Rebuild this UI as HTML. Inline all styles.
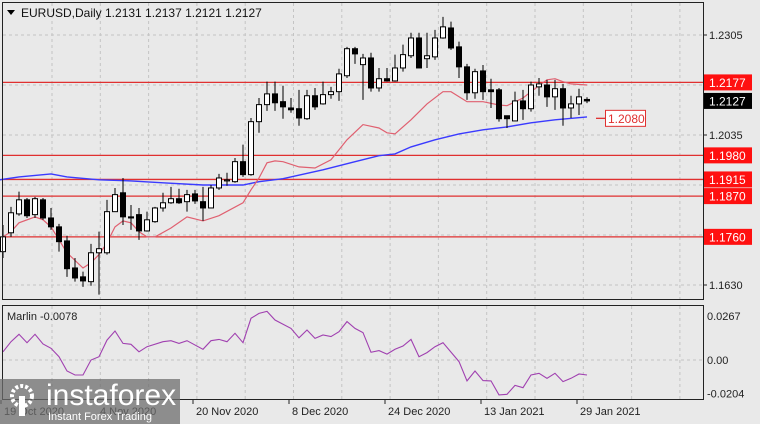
<!DOCTYPE html>
<html><head><meta charset="utf-8"><style>
body{margin:0;background:#e9e9e9;}
svg{display:block;font-family:"Liberation Sans",sans-serif;}
</style></head><body>
<svg id="c" width="760" height="424" viewBox="0 0 760 424" xmlns="http://www.w3.org/2000/svg">
<rect x="0" y="0" width="760" height="424" fill="#e9e9e9"/>
<g id="grid"></g>
<g id="levels"></g>
<g id="mas"></g>
<g id="candles"></g>
<g id="osc"></g>
<g id="axes"></g>
</svg>
<script>
const open_ = [1.1720,1.1771,1.1822,1.1860,1.1820,1.1860,1.1811,1.1787,1.1749,1.1676,1.1652,1.1639,1.1717,1.1717,1.1828,1.1879,1.1814,1.1820,1.1776,1.1801,1.1838,1.1852,1.1863,1.1855,1.1876,1.1855,1.1838,1.1892,1.1911,1.1909,1.1963,1.1928,1.2071,1.2117,1.2146,1.2125,1.2108,1.2106,1.2079,1.2141,1.2119,1.2144,1.2152,1.2195,1.2268,1.2225,1.2243,1.2162,1.2187,1.2181,1.2216,1.2249,1.2297,1.2241,1.2246,1.2297,1.2324,1.2273,1.2219,1.2149,1.2208,1.2157,1.2157,1.2087,1.2073,1.2127,1.2106,1.2165,1.2170,1.2138,1.2160,1.2108,1.2119,1.2131];
const high = [1.1792,1.1841,1.1882,1.1865,1.1868,1.1865,1.1838,1.1795,1.1763,1.1703,1.1666,1.1741,1.1774,1.1860,1.1892,1.1919,1.1846,1.1838,1.1828,1.1841,1.1879,1.1895,1.1890,1.1887,1.1887,1.1895,1.1900,1.1930,1.1933,1.1973,1.2009,1.2081,1.2135,1.2179,1.2179,1.2168,1.2135,1.2157,1.2157,1.2162,1.2179,1.2165,1.2214,1.2273,1.2273,1.2254,1.2257,1.2216,1.2216,1.2252,1.2279,1.2311,1.2311,1.2311,1.2319,1.2354,1.2341,1.2287,1.2227,1.2214,1.2224,1.2187,1.2162,1.2087,1.2152,1.2157,1.2179,1.2189,1.2184,1.2184,1.2173,1.2141,1.2160,1.2137];
const low = [1.1703,1.1760,1.1817,1.1811,1.1811,1.1806,1.1779,1.1720,1.1652,1.1639,1.1625,1.1628,1.1604,1.1712,1.1828,1.1792,1.1779,1.1752,1.1774,1.1798,1.1828,1.1849,1.1849,1.1828,1.1849,1.1803,1.1838,1.1887,1.1898,1.1906,1.1922,1.1925,1.2041,1.2100,1.2100,1.2079,1.2095,1.2060,1.2076,1.2103,1.2117,1.2133,1.2127,1.2189,1.2227,1.2130,1.2152,1.2152,1.2179,1.2179,1.2206,1.2243,1.2216,1.2216,1.2238,1.2295,1.2265,1.2189,1.2130,1.2133,1.2130,1.2108,1.2071,1.2054,1.2073,1.2076,1.2098,1.2141,1.2111,1.2103,1.2060,1.2081,1.2089,1.2121];
const close = [1.1760,1.1825,1.1860,1.1817,1.1863,1.1811,1.1787,1.1747,1.1674,1.1649,1.1641,1.1717,1.1728,1.1828,1.1874,1.1814,1.1811,1.1776,1.1806,1.1838,1.1852,1.1863,1.1852,1.1874,1.1857,1.1838,1.1892,1.1919,1.1914,1.1963,1.1928,1.2071,1.2117,1.2146,1.2122,1.2111,1.2103,1.2081,1.2141,1.2111,1.2144,1.2152,1.2200,1.2268,1.2254,1.2243,1.2162,1.2187,1.2181,1.2216,1.2252,1.2297,1.2216,1.2249,1.2297,1.2327,1.2270,1.2219,1.2149,1.2206,1.2152,1.2152,1.2079,1.2079,1.2127,1.2106,1.2170,1.2173,1.2138,1.2160,1.2108,1.2119,1.2138,1.2127];
const fastIdx = [0,1,2,4,5,6,7,8,10,11,12,13,14,15,16,17,18,19,21,23,25,27,30,31,32,33,34,35,37,39,41,43,45,47,48,49,51,53,55,56,58,60,62,63,65,66,67,68,69,70,71,73];
const fastVal = [1.1760,1.1774,1.1798,1.1814,1.1806,1.1787,1.1752,1.1717,1.1676,1.1690,1.1712,1.1744,1.1787,1.1803,1.1798,1.1774,1.1760,1.1760,1.1784,1.1814,1.1803,1.1817,1.1852,1.1887,1.1919,1.1960,1.1965,1.1963,1.1949,1.1946,1.1968,1.2022,1.2063,1.2054,1.2041,1.2038,1.2076,1.2119,1.2152,1.2152,1.2125,1.2125,1.2116,1.2114,1.2135,1.2152,1.2168,1.2184,1.2187,1.2179,1.2173,1.2170];
const slowIdx = [-0.4,2,6,8,12,16,20,25,30,32,35,40,44,47,49,51,54,57,60,63,66,69,73];
const slowVal = [1.1914,1.1922,1.1930,1.1922,1.1914,1.1911,1.1906,1.1900,1.1900,1.1909,1.1917,1.1941,1.1963,1.1979,1.1984,1.2003,1.2022,1.2038,1.2049,1.2057,1.2068,1.2076,1.2084];
const marlinIdx = [0,1,2,3,4,5,6,7,8,9,10,11,12,13,14,15,16,17,18,20,21,22,23,25,26,27,28,29,30,31,32,33,34,36,37,38,39,40,41,42,43,44,45,46,47,48,49,50,51,52,53,54,55,57,58,59,60,61,62,63,64,65,66,67,68,69,70,71,72,73];
const marlinVal = [0.0050,0.0111,0.0156,0.0105,0.0156,0.0097,0.0071,0.0020,-0.0067,-0.0091,-0.0091,0.0000,0.0020,0.0121,0.0176,0.0101,0.0095,0.0050,0.0081,0.0111,0.0117,0.0101,0.0117,0.0065,0.0117,0.0125,0.0111,0.0162,0.0105,0.0253,0.0283,0.0295,0.0243,0.0192,0.0135,0.0182,0.0131,0.0152,0.0142,0.0172,0.0233,0.0192,0.0166,0.0047,0.0057,0.0036,0.0065,0.0085,0.0125,0.0020,0.0045,0.0081,0.0105,-0.0010,-0.0127,-0.0067,-0.0125,-0.0127,-0.0212,-0.0208,-0.0154,-0.0168,-0.0091,-0.0081,-0.0111,-0.0081,-0.0131,-0.0111,-0.0085,-0.0091];
const levels = [1.2177,1.1980,1.1915,1.1870,1.1760];
const priceTicks = ["1.2305","1.2035","1.1630"];
const gridPrices = [1.2305,1.2170,1.2035,1.1900,1.1765,1.1630];
const dateLabels = ["19 Oct 2020","4 Nov 2020","20 Nov 2020","8 Dec 2020","24 Dec 2020","13 Jan 2021","29 Jan 2021"];
const dateIdx = [1,13,25,37,49,61,73];
const oscTicks = [0.0267,0.00,-0.0204];
const oscTickLabels = ["0.0267","0.00","-0.0204"];
const lastPrice = 1.2127;
const targetLevel = 1.2080;

const NS="http://www.w3.org/2000/svg";
function xOf(i){return 3+8*i;}
function yOf(p){return 35+(1.2305-p)*3703.7;}
function yOsc(v){return 360-v*1648;}
function mk(tag,attrs,parent){const e=document.createElementNS(NS,tag);for(const k in attrs)e.setAttribute(k,attrs[k]);parent.appendChild(e);return e;}
const G=id=>document.getElementById(id);

const ax=G('axes');
let r=mk('rect',{x:2.5,y:2.5,width:701,height:297,fill:'none',stroke:'#222','stroke-width':1},ax);


r=mk('rect',{x:2.5,y:305.5,width:701,height:94,fill:'none',stroke:'#222','stroke-width':1},ax);



const gg=G('grid');
for(let k=0;k<14;k++){const x=52+k*48.3;if(x>700)break;
 let l=mk('line',{x1:x,y1:3,x2:x,y2:299,stroke:'#c4c4c4','stroke-dasharray':'3,3'},gg);
 
 
 l=mk('line',{x1:x,y1:306,x2:x,y2:399,stroke:'#c4c4c4','stroke-dasharray':'3,3'},gg);
 
 }
gridPrices.forEach(p=>{const y=yOf(p);
 let l=mk('line',{x1:3,y1:y,x2:703,y2:y,stroke:'#c4c4c4','stroke-dasharray':'3,3'},gg);
 
 
 l=mk('line',{x1:703,y1:y,x2:707,y2:y,stroke:'#222'},gg);
 
 });
let l0=mk('line',{x1:3,y1:yOsc(0),x2:703,y2:yOsc(0),stroke:'#c4c4c4','stroke-dasharray':'3,3'},gg);



priceTicks.forEach(t=>{const tx=mk('text',{x:709,y:yOf(+t)+4,'font-size':11,fill:'#222'},ax);tx.textContent=t;
 
 });

const lv=G('levels');
levels.forEach(p=>{const y=yOf(p);
 const l=mk('line',{x1:3,y1:y,x2:703,y2:y,stroke:'#e03030','stroke-width':1.3},lv);
 
 
 const b=mk('rect',{x:704,y:y-8,width:48,height:16,fill:'#ff1010'},lv);
 
 
 const t=mk('text',{x:709,y:y+4.5,'font-size':12,fill:'#fff'},lv);t.textContent=p.toFixed(4);
 
 });
{const y=yOf(lastPrice);
 const b=mk('rect',{x:704,y:y-8,width:48,height:16,fill:'#000'},lv);
 
 
 const t=mk('text',{x:709,y:y+4.5,'font-size':12,fill:'#fff'},lv);t.textContent=lastPrice.toFixed(4);
 
 }
{const y=yOf(targetLevel);
 const l=mk('line',{x1:596,y1:y,x2:605,y2:y,stroke:'#e03030','stroke-width':1.3},lv);
 
 
 const b=mk('rect',{x:605.5,y:y-8,width:40,height:16,fill:'#fff',stroke:'#e03030'},lv);
 
 
 const t=mk('text',{x:608,y:y+4.5,'font-size':12,fill:'#e03030'},lv);t.textContent=targetLevel.toFixed(4);
 
 }

function path(idx,val,fx,fy){return idx.map((i,k)=>(k?'L':'M')+fx(i).toFixed(1)+','+fy(val[k]).toFixed(1)).join(' ');}
const ms=G('mas');
let p1=mk('path',{d:path(slowIdx,slowVal,xOf,yOf),fill:'none',stroke:'#3a3aff','stroke-width':1.4},ms);


let p2=mk('path',{d:path(fastIdx,fastVal,xOf,yOf),fill:'none',stroke:'#e06070','stroke-width':1.2},ms);



const cg=G('candles');
close.forEach((c,i)=>{const x=xOf(i);const o=open_[i];
 const w=mk('line',{x1:x,y1:yOf(high[i]),x2:x,y2:yOf(low[i]),stroke:'#000','stroke-width':1},cg);
 
 
 const top=yOf(Math.max(o,c)),bot=yOf(Math.min(o,c));
 const b=mk('rect',{x:x-2.5,y:top,width:5,height:Math.max(1,bot-top),fill:c>=o?'#fff':'#000',stroke:'#000','stroke-width':1},cg);
 
 });

const og=G('osc');
let mp=mk('path',{d:path(marlinIdx,marlinVal,xOf,yOsc),fill:'none',stroke:'#a040b0','stroke-width':1.1},og);


oscTicks.forEach((v,k)=>{const t=mk('text',{x:707,y:yOsc(v)+4,'font-size':11,fill:'#222'},og);t.textContent=oscTickLabels[k];
 
 });
let ot=mk('text',{x:7,y:320,'font-size':11,fill:'#222'},og);ot.textContent='Marlin -0.0078';



dateLabels.forEach((d,k)=>{const x=xOf(dateIdx[k])-10;
 const l=mk('line',{x1:x,y1:400,x2:x,y2:404,stroke:'#222'},ax);
 
 
 const t=mk('text',{x:x+3,y:415,'font-size':11,fill:'#222'},ax);t.textContent=d;
 
 });

let tri=mk('path',{d:'M7,10 L15,10 L11,15 Z',fill:'#000'},ax);


let tt=mk('text',{x:21,y:17,'font-size':12,fill:'#111'},ax);tt.textContent='EURUSD,Daily  1.2131 1.2137 1.2121 1.2127';


tt.setAttribute('xml:space','preserve');

const wm=mk('g',{},ax);


mk('rect',{x:0,y:379,width:180,height:45,fill:'#6e6e6e','fill-opacity':0.75},wm);
mk('circle',{cx:22,cy:396,r:10,fill:'none',stroke:'#fff','stroke-width':4,'stroke-dasharray':'3,2'},wm);
mk('rect',{x:19,y:396,width:6,height:20,fill:'#fff'},wm);
let w1=mk('text',{x:46,y:405,'font-size':30,fill:'#fff'},wm);w1.textContent='instaforex';


let w2=mk('text',{x:48,y:420,'font-size':11,fill:'#fff'},wm);w2.textContent='Instant Forex Trading';


</script>
</body></html>
